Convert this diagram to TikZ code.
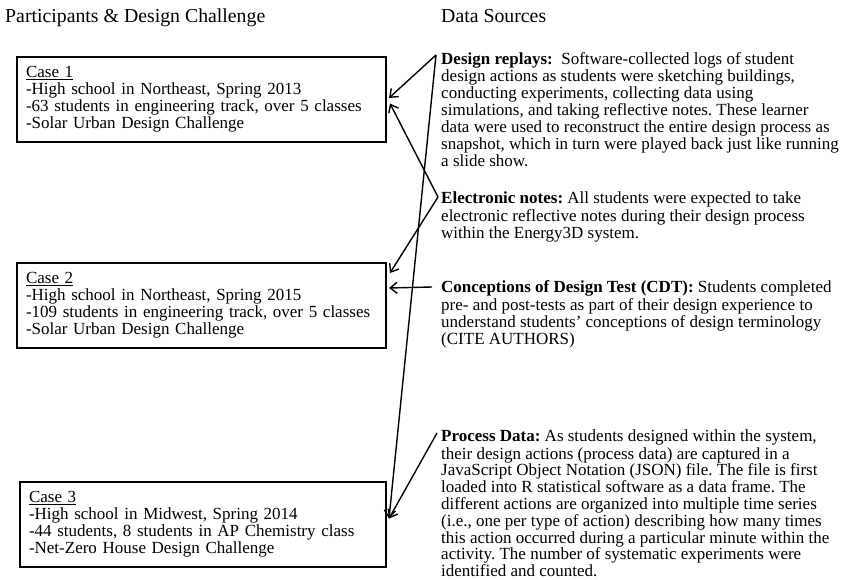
\documentclass[tikz,border=0pt]{standalone}
\usepackage{fontspec}
\setmainfont{Liberation Serif}
\usetikzlibrary{arrows.meta}
\begin{document}
\frenchspacing
\begin{tikzpicture}[x=1pt,y=-1pt,
  hdr/.style={anchor=base west, inner sep=0pt, font=\fontsize{19.8}{23}\selectfont},
  src/.style={anchor=north west, inner sep=0pt, align=left, font=\fontsize{17}{17}\selectfont},
  casebox/.style={draw, line width=2pt, anchor=north west, minimum width=369pt, minimum height=85pt,
    text width=351pt, inner xsep=9pt, inner ysep=0pt, align=left, font=\fontsize{17}{17}\selectfont},
  link/.style={line width=1.4pt, -{Straight Barb[length=7pt,width=11pt,line width=1.4pt]}}
]
\useasboundingbox (0,0) rectangle (843,580);

\node[hdr] (h1) at (5,23) {Participants \& Design Challenge};
\node[hdr] (h2) at (441,23) {Data Sources};

\node[casebox] (c1) at (16,56) {\underline{Case 1}\\-High school in Northeast, Spring 2013\\-63 students in engineering track, over 5 classes\\-Solar Urban Design Challenge};
\node[casebox] (c2) at (16,262) {\underline{Case 2}\\-High school in Northeast, Spring 2015\\-109 students in engineering track, over 5 classes\\-Solar Urban Design Challenge};
\node[casebox, minimum width=366pt, text width=348pt] (c3) at (19,481) {\underline{Case 3}\\-High school in Midwest, Spring 2014\\-44 students, 8 students in AP Chemistry class\\-Net-Zero House Design Challenge};

\node[src] (dr) at (441,52.1) {\strut\textbf{Design replays:}\ \ Software-collected logs of student\\
design actions as students were sketching buildings,\\
conducting experiments, collecting data using\\
simulations, and taking reflective notes. These learner\\
data were used to reconstruct the entire design process as\\
snapshot, which in turn were played back just like running\\
a slide show.};

\node[src] (en) at (441,191.1) {\strut\textbf{Electronic notes:} All students were expected to take\\
electronic reflective notes during their design process\\
within the Energy3D system.};

\node[src] (cd) at (441,280.1) {\strut\textbf{Conceptions of Design Test (CDT):} Students completed\\
pre- and post-tests as part of their design experience to\\
understand students’ conceptions of design terminology\\
(CITE AUTHORS)};

\node[src, font=\fontsize{17}{16.8}\selectfont] (pd) at (441,429.2) {\strut\textbf{Process Data:} As students designed within the system,\\
their design actions (process data) are captured in a\\
JavaScript Object Notation (JSON) file. The file is first\\
loaded into R statistical software as a data frame. The\\
different actions are organized into multiple time series\\
(i.e., one per type of action) describing how many times\\
this action occurred during a particular minute within the\\
activity. The number of systematic experiments were\\
identified and counted.};

\draw[link] ([xshift=-5pt,yshift=-2.9pt]dr.north west) -- ([xshift=2pt,yshift=1.5pt]c1.east);
\draw[link] ([xshift=-5pt,yshift=-2.9pt]dr.north west) -- ([xshift=2pt,yshift=6pt]c3.east);
\draw[link] ([xshift=-3pt,yshift=-5.9pt]en.north west) -- ([xshift=3pt,yshift=-4pt]c1.east);
\draw[link] ([xshift=-3pt,yshift=-5.9pt]en.north west) -- ([xshift=3pt,yshift=32.5pt]c2.east);
\draw[link] ([xshift=-9pt,yshift=-6.9pt]cd.north west) -- ([xshift=2pt,yshift=17.5pt]c2.east);
\draw[link] ([xshift=-4pt,yshift=-3.8pt]pd.north west) -- ([xshift=2pt,yshift=6pt]c3.east);
\end{tikzpicture}
\end{document}
